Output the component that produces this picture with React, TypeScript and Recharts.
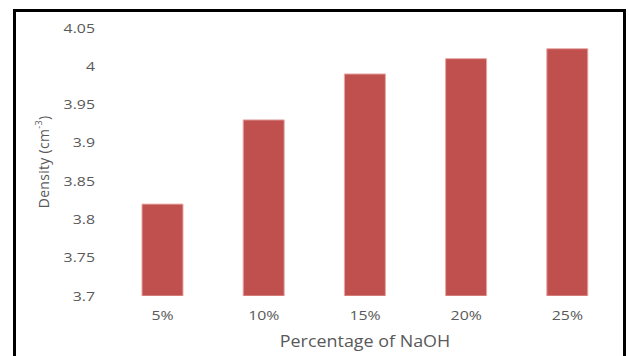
import React from 'react';
import { BarChart, Bar, XAxis, YAxis, Label } from 'recharts';

const categories = ['5%', '10%', '15%', '20%', '25%'];
const density = [3.82, 3.93, 3.99, 4.01, 4.023];
const yTicks = [3.7, 3.75, 3.8, 3.85, 3.9, 3.95, 4, 4.05];

const data = categories.map((c, i) => ({ naoh: c, density: density[i] }));

const FONT = '"Open Sans", "Noto Sans", sans-serif';
const TEXT = '#595959';
const STRETCH = 1.22;

// Tick text drawn slightly widened horizontally
const XTick = (props: any) => {
  const { x, y, payload } = props;
  return (
    <text
      transform={`translate(${x}, ${y}) scale(${STRETCH}, 1)`}
      textAnchor="middle"
      dy="0.71em"
      fill={TEXT}
      fontFamily={FONT}
      fontSize={13}
    >
      {payload.value}
    </text>
  );
};

const YTick = (props: any) => {
  const { x, y, payload } = props;
  return (
    <text
      transform={`translate(${x}, ${y}) scale(${STRETCH}, 1)`}
      textAnchor="end"
      dy="0.355em"
      fill={TEXT}
      fontFamily={FONT}
      fontSize={13}
    >
      {payload.value}
    </text>
  );
};

const NaohLabel = (props: any) => {
  const vb = props.viewBox || {};
  const cx = vb.x + vb.width / 2;
  const cy = 347;
  return (
    <text
      transform={`translate(${cx}, ${cy}) scale(1.12, 1)`}
      textAnchor="middle"
      fill={TEXT}
      fontFamily={FONT}
      fontSize={16}
    >
      Percentage of NaOH
    </text>
  );
};

const DensityLabel = (props: any) => {
  const vb = props.viewBox || {};
  const cx = 43;
  const cy = vb.y + vb.height / 2;
  return (
    <text
      x={cx}
      y={cy}
      transform={`rotate(-90, ${cx}, ${cy})`}
      textAnchor="middle"
      dominantBaseline="central"
      fill={TEXT}
      fontFamily={FONT}
      fontSize={14}
      letterSpacing={0.3}
    >
      Density (cm
      <tspan dy={-5} fontSize={9}>-3</tspan>
      <tspan dy={5}>)</tspan>
    </text>
  );
};

export default function App() {
  return (
    <div style={{ position: 'absolute', left: 0, top: 0, width: 629, height: 356, background: '#fff', overflow: 'hidden' }}>
      <div
        style={{
          position: 'absolute',
          left: 13,
          top: 9,
          width: 613,
          height: 400,
          border: '3px solid #000',
          boxSizing: 'border-box',
        }}
      />
      <div style={{ position: 'absolute', left: 0, top: 0 }}>
        <BarChart
          width={629}
          height={356}
          data={data}
          margin={{ top: 28, right: 11, bottom: 0, left: 0 }}
        >
          <XAxis
            dataKey="naoh"
            axisLine={false}
            tickLine={false}
            tickMargin={9}
            height={60}
            tick={<XTick />}
          >
            <Label content={<NaohLabel />} />
          </XAxis>
          <YAxis
            type="number"
            domain={[3.7, 4.05]}
            ticks={yTicks}
            interval={0}
            allowDataOverflow
            axisLine={false}
            tickLine={false}
            tickMargin={11}
            width={112}
            tick={<YTick />}
          >
            <Label content={<DensityLabel />} />
          </YAxis>
          <Bar
            dataKey="density"
            fill="#C0504D"
            stroke="#E6A9A7"
            strokeWidth={1}
            barSize={41}
            isAnimationActive={false}
          />
        </BarChart>
      </div>
    </div>
  );
}
